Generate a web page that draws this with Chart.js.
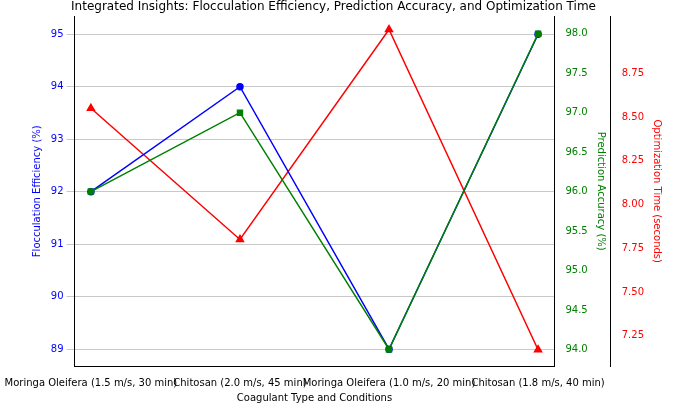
<!DOCTYPE html>
<html lang="en">
<head>
    <meta charset="UTF-8">
    <title>Integrated Insights</title>
    <script src="https://cdn.jsdelivr.net/npm/chart.js@4.4.1/dist/chart.umd.min.js"></script>
    <style>
        body { margin: 0; background: #fff; }
        .chart-container { position: relative; width: 685px; height: 404px; }
    </style>
</head>
<body>
    <div class="chart-container">
        <canvas id="insights"></canvas>
    </div>
    <script>
        const categories = ['Moringa Oleifera (1.5 m/s, 30 min)', 'Chitosan (2.0 m/s, 45 min)', 'Moringa Oleifera (1.0 m/s, 20 min)', 'Chitosan (1.8 m/s, 40 min)'];
        const flocculation = [92, 94, 89, 95];
        const accuracy = [96, 97, 94, 98];
        const optTime = [8.55, 7.8, 9.0, 7.17];

        const flocTicks = [89, 90, 91, 92, 93, 94, 95];
        const accTicks = [94.0, 94.5, 95.0, 95.5, 96.0, 96.5, 97.0, 97.5, 98.0];
        const timeTicks = [7.25, 7.5, 7.75, 8.0, 8.25, 8.5, 8.75];

        const font = { family: 'DejaVu Sans', size: 10 };

        function fixedTicks(values) {
            return axis => { axis.ticks = values.map(v => ({ value: v })); };
        }
        const points = arr => arr.map((v, i) => ({ x: i, y: v }));

        new Chart(document.getElementById('insights'), {
            type: 'line',
            data: {
                datasets: [
                    { label: 'Flocculation Efficiency (%)', data: points(flocculation), yAxisID: 'y', order: 2,
                      borderColor: 'blue', backgroundColor: 'blue', pointStyle: 'circle', pointRadius: 3, borderWidth: 1.5 },
                    { label: 'Prediction Accuracy (%)', data: points(accuracy), yAxisID: 'y1', order: 1,
                      borderColor: 'green', backgroundColor: 'green', pointStyle: 'rect', pointRadius: 3.5, borderWidth: 1.5 },
                    { label: 'Optimization Time (seconds)', data: points(optTime), yAxisID: 'y2', order: 3,
                      borderColor: 'red', backgroundColor: 'red', pointStyle: 'triangle', pointRadius: 4, borderWidth: 1.5 }
                ]
            },
            options: {
                responsive: true,
                maintainAspectRatio: false,
                animation: false,
                layout: { padding: { top: 0, right: 18, left: 0, bottom: 0 } },
                plugins: {
                    legend: { display: false },
                    title: { display: true, text: 'Integrated Insights: Flocculation Efficiency, Prediction Accuracy, and Optimization Time',
                             color: '#000', font: { family: 'DejaVu Sans', size: 12, weight: 'normal' }, padding: { top: 0, bottom: 2 } }
                },
                scales: {
                    x: {
                        type: 'linear',
                        min: -0.11, max: 3.11,
                        afterBuildTicks: fixedTicks([0, 1, 2, 3]),
                        ticks: { color: '#000', font, maxRotation: 0, autoSkip: false, callback: v => categories[v] },
                        grid: { display: false },
                        border: { color: '#000' },
                        title: { display: true, text: 'Coagulant Type and Conditions', color: '#000', font, padding: 0 }
                    },
                    y: {
                        position: 'left', min: 88.68, max: 95.34,
                        afterBuildTicks: fixedTicks(flocTicks),
                        ticks: { color: 'blue', font },
                        grid: { color: '#c8c8c8' },
                        border: { color: '#000' },
                        title: { display: true, text: 'Flocculation Efficiency (%)', color: 'blue', font }
                    },
                    y1: {
                        position: 'right', min: 93.79, max: 98.22,
                        afterBuildTicks: fixedTicks(accTicks),
                        ticks: { color: 'green', font, callback: v => v.toFixed(1) },
                        grid: { display: false },
                        border: { color: '#000' },
                        title: { display: true, text: 'Prediction Accuracy (%)', color: 'green', font }
                    },
                    y2: {
                        position: 'right', min: 7.077, max: 9.075,
                        afterBuildTicks: fixedTicks(timeTicks),
                        ticks: { color: 'red', font, callback: v => v.toFixed(2) },
                        grid: { display: false },
                        border: { color: '#000' },
                        title: { display: true, text: 'Optimization Time (seconds)', color: 'red', font }
                    }
                }
            }
        });
    </script>
</body>
</html>
